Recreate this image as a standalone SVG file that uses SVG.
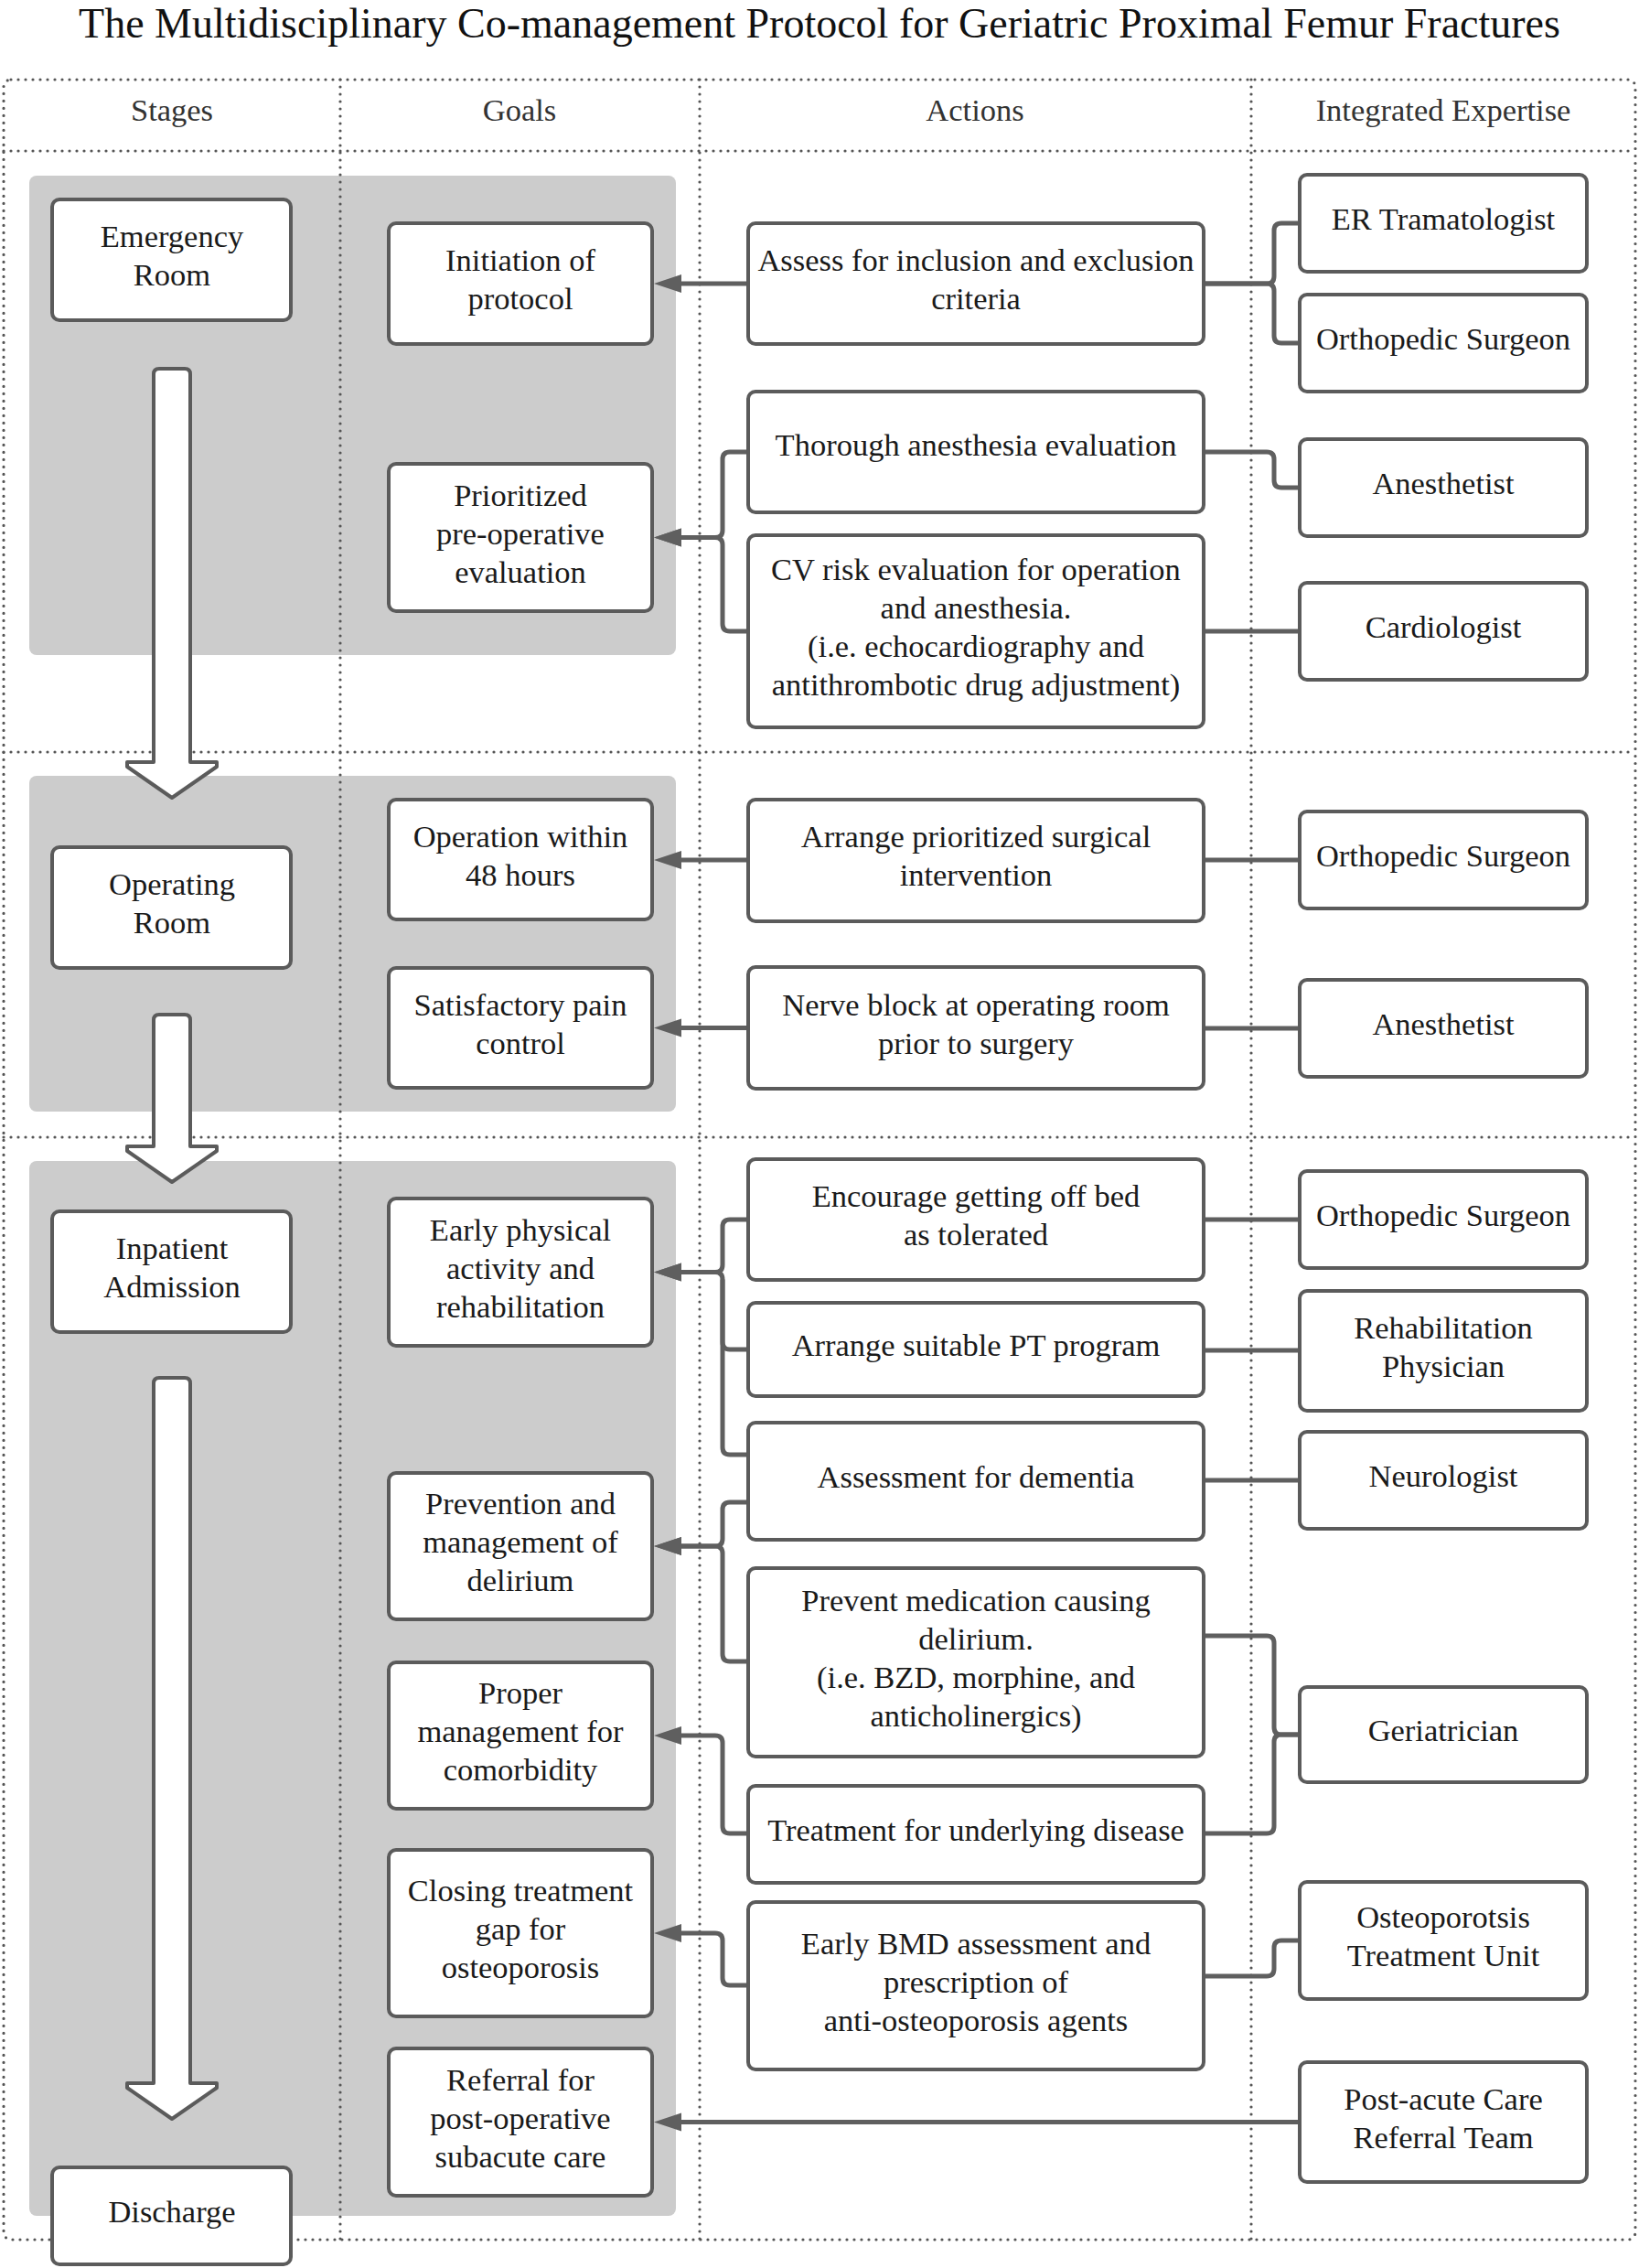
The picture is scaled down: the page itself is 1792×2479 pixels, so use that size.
<svg xmlns="http://www.w3.org/2000/svg" width="1792" height="2479" viewBox="0 0 1792 2479">
<defs>
<style>
.bg{fill:#ffffff}
.panel{fill:#cccccc}
.dot{fill:none;stroke:#555555;stroke-width:3.2;stroke-linecap:round;stroke-dasharray:0 8}
.box{fill:#ffffff;stroke:#5b5b5b;stroke-width:4}
.blk{fill:#ffffff;stroke:#5b5b5b;stroke-width:4;stroke-linejoin:round}
.c{fill:none;stroke:#5f5f5f;stroke-width:5;stroke-linejoin:round}
.a{fill:none;stroke:#5f5f5f;stroke-width:5;stroke-linejoin:round;marker-end:url(#ah)}
.t{font-family:"Liberation Serif","Times New Roman",serif;font-size:34.5px;fill:#1a1a1a;text-anchor:middle}
.h{font-family:"Liberation Serif","Times New Roman",serif;font-size:34.5px;fill:#333333;text-anchor:middle}
.title{font-family:"Liberation Serif","Times New Roman",serif;font-size:46px;fill:#111111;text-anchor:middle}
</style>
<marker id="ah" markerUnits="userSpaceOnUse" markerWidth="32" markerHeight="22" refX="0" refY="10" orient="auto" viewBox="0 0 32 22">
<path d="M0,0 L30,10 L0,20 z" fill="#5f5f5f"/>
</marker>
</defs>
<rect class="bg" x="0" y="0" width="1792" height="2479"/>
<text class="title" x="896" y="41">The Multidisciplinary Co-management Protocol for Geriatric Proximal Femur Fractures</text>

<g id="panels">
<rect class="panel" x="32" y="192" width="707" height="524" rx="8"/>
<rect class="panel" x="32" y="848" width="707" height="367" rx="8"/>
<rect class="panel" x="32" y="1269" width="707" height="1153" rx="8"/>
</g>

<g id="grid">
<rect class="dot" x="4" y="87" width="1784" height="2361" rx="8"/>
<line class="dot" x1="4" y1="165" x2="1788" y2="165"/>
<line class="dot" x1="4" y1="822" x2="1788" y2="822"/>
<line class="dot" x1="4" y1="1243" x2="1788" y2="1243"/>
<line class="dot" x1="372" y1="87" x2="372" y2="2448"/>
<line class="dot" x1="765" y1="87" x2="765" y2="2448"/>
<line class="dot" x1="1368" y1="87" x2="1368" y2="2448"/>
</g>

<g id="headers">
<text class="h" x="188" y="132">Stages</text>
<text class="h" x="568" y="132">Goals</text>
<text class="h" x="1066" y="132">Actions</text>
<text class="h" x="1578" y="132">Integrated Expertise</text>
</g>

<g id="connectors">
<path class="a" d="M818,310 H745"/>
<path class="c" d="M1316,310 H1385 Q1393,310 1393,302 V252 Q1393,244 1401,244 H1421"/>
<path class="c" d="M1316,310 H1385 Q1393,310 1393,318 V367 Q1393,375 1401,375 H1421"/>
<path class="c" d="M1316,494 H1385 Q1393,494 1393,502 V525 Q1393,533 1401,533 H1421"/>
<path class="c" d="M1316,690 H1421"/>
<path class="a" d="M818,494 H798 Q790,494 790,502 V579.5 Q790,587.5 782,587.5 H745"/>
<path class="a" d="M818,690 H798 Q790,690 790,682 V595.5 Q790,587.5 782,587.5 H745"/>

<path class="a" d="M818,940 H745"/>
<path class="c" d="M1316,940 H1421"/>
<path class="a" d="M818,1123.5 H745"/>
<path class="c" d="M1316,1124 H1421"/>

<path class="a" d="M818,1333 H798 Q790,1333 790,1341 V1382.5 Q790,1390.5 782,1390.5 H745"/>
<path class="c" d="M818,1475 H798 Q790,1475 790,1467 V1398.5"/>
<path class="a" d="M818,1590 H798 Q790,1590 790,1582 V1398.5 Q790,1390.5 782,1390.5 H745"/>
<path class="a" d="M818,1642 H798 Q790,1642 790,1650 V1682 Q790,1690 782,1690 H745"/>
<path class="a" d="M818,1816 H798 Q790,1816 790,1808 V1698 Q790,1690 782,1690 H745"/>
<path class="c" d="M1316,1333 H1421"/>
<path class="c" d="M1316,1476 H1421"/>
<path class="c" d="M1316,1618 H1421"/>
<path class="c" d="M1316,1788 H1385 Q1393,1788 1393,1796 V1888 Q1393,1896 1401,1896 H1421"/>
<path class="c" d="M1316,2004 H1385 Q1393,2004 1393,1996 V1904 Q1393,1896 1401,1896 H1421"/>
<path class="a" d="M818,2004 H798 Q790,2004 790,1996 V1905 Q790,1897 782,1897 H745"/>
<path class="a" d="M818,2170 H798 Q790,2170 790,2162 V2121 Q790,2113 782,2113 H745"/>
<path class="c" d="M1316,2160 H1385 Q1393,2160 1393,2152 V2129 Q1393,2121 1401,2121 H1421"/>
<path class="a" d="M1421,2319.5 H745"/>
</g>

<g id="flow-arrows">
<path class="blk" d="M168,409 Q168,403 174,403 H202 Q208,403 208,409 V833 H237 V838 L188,872 L139,838 V833 H168 Z"/>
<path class="blk" d="M168,1115 Q168,1109 174,1109 H202 Q208,1109 208,1115 V1253 H237 V1258 L188,1292 L139,1258 V1253 H168 Z"/>
<path class="blk" d="M168,1512 Q168,1506 174,1506 H202 Q208,1506 208,1512 V2277 H237 V2282 L188,2316 L139,2282 V2277 H168 Z"/>
</g>

<g id="stage-er"><rect class="box" x="57" y="218" width="261" height="132" rx="8"/><text class="t"><tspan x="188" y="270">Emergency</tspan><tspan x="188" y="312">Room</tspan></text></g>
<g id="stage-or"><rect class="box" x="57" y="926" width="261" height="132" rx="8"/><text class="t"><tspan x="188" y="978">Operating</tspan><tspan x="188" y="1020">Room</tspan></text></g>
<g id="stage-ip"><rect class="box" x="57" y="1324" width="261" height="132" rx="8"/><text class="t"><tspan x="188" y="1376">Inpatient</tspan><tspan x="188" y="1418">Admission</tspan></text></g>
<g id="stage-dc"><rect class="box" x="57" y="2369" width="261" height="106" rx="8"/><text class="t" x="188" y="2429">Discharge</text></g>

<g id="goal-init"><rect class="box" x="425" y="244" width="288" height="132" rx="8"/><text class="t"><tspan x="569" y="296">Initiation of</tspan><tspan x="569" y="338">protocol</tspan></text></g>
<g id="goal-preop"><rect class="box" x="425" y="507" width="288" height="161" rx="8"/><text class="t"><tspan x="569" y="552.5">Prioritized</tspan><tspan x="569" y="594.5">pre-operative</tspan><tspan x="569" y="636.5">evaluation</tspan></text></g>
<g id="goal-op48"><rect class="box" x="425" y="874" width="288" height="131" rx="8"/><text class="t"><tspan x="569" y="925.5">Operation within</tspan><tspan x="569" y="967.5">48 hours</tspan></text></g>
<g id="goal-pain"><rect class="box" x="425" y="1058" width="288" height="131" rx="8"/><text class="t"><tspan x="569" y="1109.5">Satisfactory pain</tspan><tspan x="569" y="1151.5">control</tspan></text></g>
<g id="goal-rehab"><rect class="box" x="425" y="1310" width="288" height="161" rx="8"/><text class="t"><tspan x="569" y="1355.5">Early physical</tspan><tspan x="569" y="1397.5">activity and</tspan><tspan x="569" y="1439.5">rehabilitation</tspan></text></g>
<g id="goal-delirium"><rect class="box" x="425" y="1610" width="288" height="160" rx="8"/><text class="t"><tspan x="569" y="1655">Prevention and</tspan><tspan x="569" y="1697">management of</tspan><tspan x="569" y="1739">delirium</tspan></text></g>
<g id="goal-comorb"><rect class="box" x="425" y="1817" width="288" height="160" rx="8"/><text class="t"><tspan x="569" y="1862">Proper</tspan><tspan x="569" y="1904">management for</tspan><tspan x="569" y="1946">comorbidity</tspan></text></g>
<g id="goal-osteo"><rect class="box" x="425" y="2022" width="288" height="182" rx="8"/><text class="t"><tspan x="569" y="2078">Closing treatment</tspan><tspan x="569" y="2120">gap for</tspan><tspan x="569" y="2162">osteoporosis</tspan></text></g>
<g id="goal-referral"><rect class="box" x="425" y="2239" width="288" height="161" rx="8"/><text class="t"><tspan x="569" y="2284.5">Referral for</tspan><tspan x="569" y="2326.5">post-operative</tspan><tspan x="569" y="2368.5">subacute care</tspan></text></g>

<g id="act-assess"><rect class="box" x="818" y="244" width="498" height="132" rx="8"/><text class="t"><tspan x="1067" y="296">Assess for inclusion and exclusion</tspan><tspan x="1067" y="338">criteria</tspan></text></g>
<g id="act-anes"><rect class="box" x="818" y="428" width="498" height="132" rx="8"/><text class="t" x="1067" y="498">Thorough anesthesia evaluation</text></g>
<g id="act-cv"><rect class="box" x="818" y="585" width="498" height="210" rx="8"/><text class="t"><tspan x="1067" y="634">CV risk evaluation for operation</tspan><tspan x="1067" y="676">and anesthesia.</tspan><tspan x="1067" y="718">(i.e. echocardiography and</tspan><tspan x="1067" y="760">antithrombotic drug adjustment)</tspan></text></g>
<g id="act-surg"><rect class="box" x="818" y="874" width="498" height="133" rx="8"/><text class="t"><tspan x="1067" y="926">Arrange prioritized surgical</tspan><tspan x="1067" y="968">intervention</tspan></text></g>
<g id="act-nerve"><rect class="box" x="818" y="1057" width="498" height="133" rx="8"/><text class="t"><tspan x="1067" y="1109.5">Nerve block at operating room</tspan><tspan x="1067" y="1151.5">prior to surgery</tspan></text></g>
<g id="act-bed"><rect class="box" x="818" y="1267" width="498" height="132" rx="8"/><text class="t"><tspan x="1067" y="1319">Encourage getting off bed</tspan><tspan x="1067" y="1361">as tolerated</tspan></text></g>
<g id="act-pt"><rect class="box" x="818" y="1424" width="498" height="102" rx="8"/><text class="t" x="1067" y="1482">Arrange suitable PT program</text></g>
<g id="act-dementia"><rect class="box" x="818" y="1555" width="498" height="128" rx="8"/><text class="t" x="1067" y="1626">Assessment for dementia</text></g>
<g id="act-med"><rect class="box" x="818" y="1714" width="498" height="206" rx="8"/><text class="t"><tspan x="1067" y="1761">Prevent medication causing</tspan><tspan x="1067" y="1803">delirium.</tspan><tspan x="1067" y="1845">(i.e. BZD, morphine, and</tspan><tspan x="1067" y="1887">anticholinergics)</tspan></text></g>
<g id="act-underlying"><rect class="box" x="818" y="1952" width="498" height="106" rx="8"/><text class="t" x="1067" y="2012">Treatment for underlying disease</text></g>
<g id="act-bmd"><rect class="box" x="818" y="2079" width="498" height="183" rx="8"/><text class="t"><tspan x="1067" y="2135.5">Early BMD assessment and</tspan><tspan x="1067" y="2177.5">prescription of</tspan><tspan x="1067" y="2219.5">anti-osteoporosis agents</tspan></text></g>

<g id="exp-er"><rect class="box" x="1421" y="191" width="314" height="106" rx="8"/><text class="t" x="1578" y="251">ER Tramatologist</text></g>
<g id="exp-ortho1"><rect class="box" x="1421" y="322" width="314" height="106" rx="8"/><text class="t" x="1578" y="382">Orthopedic Surgeon</text></g>
<g id="exp-anes1"><rect class="box" x="1421" y="480" width="314" height="106" rx="8"/><text class="t" x="1578" y="540">Anesthetist</text></g>
<g id="exp-cardio"><rect class="box" x="1421" y="637" width="314" height="106" rx="8"/><text class="t" x="1578" y="697">Cardiologist</text></g>
<g id="exp-ortho2"><rect class="box" x="1421" y="887" width="314" height="106" rx="8"/><text class="t" x="1578" y="947">Orthopedic Surgeon</text></g>
<g id="exp-anes2"><rect class="box" x="1421" y="1071" width="314" height="106" rx="8"/><text class="t" x="1578" y="1131">Anesthetist</text></g>
<g id="exp-ortho3"><rect class="box" x="1421" y="1280" width="314" height="106" rx="8"/><text class="t" x="1578" y="1340">Orthopedic Surgeon</text></g>
<g id="exp-rehab"><rect class="box" x="1421" y="1411" width="314" height="131" rx="8"/><text class="t"><tspan x="1578" y="1462.5">Rehabilitation</tspan><tspan x="1578" y="1504.5">Physician</tspan></text></g>
<g id="exp-neuro"><rect class="box" x="1421" y="1565" width="314" height="106" rx="8"/><text class="t" x="1578" y="1625">Neurologist</text></g>
<g id="exp-geri"><rect class="box" x="1421" y="1844" width="314" height="104" rx="8"/><text class="t" x="1578" y="1903">Geriatrician</text></g>
<g id="exp-osteo"><rect class="box" x="1421" y="2057" width="314" height="128" rx="8"/><text class="t"><tspan x="1578" y="2107">Osteoporotsis</tspan><tspan x="1578" y="2149">Treatment Unit</tspan></text></g>
<g id="exp-postacute"><rect class="box" x="1421" y="2254" width="314" height="131" rx="8"/><text class="t"><tspan x="1578" y="2306">Post-acute Care</tspan><tspan x="1578" y="2348">Referral Team</tspan></text></g>
</svg>
